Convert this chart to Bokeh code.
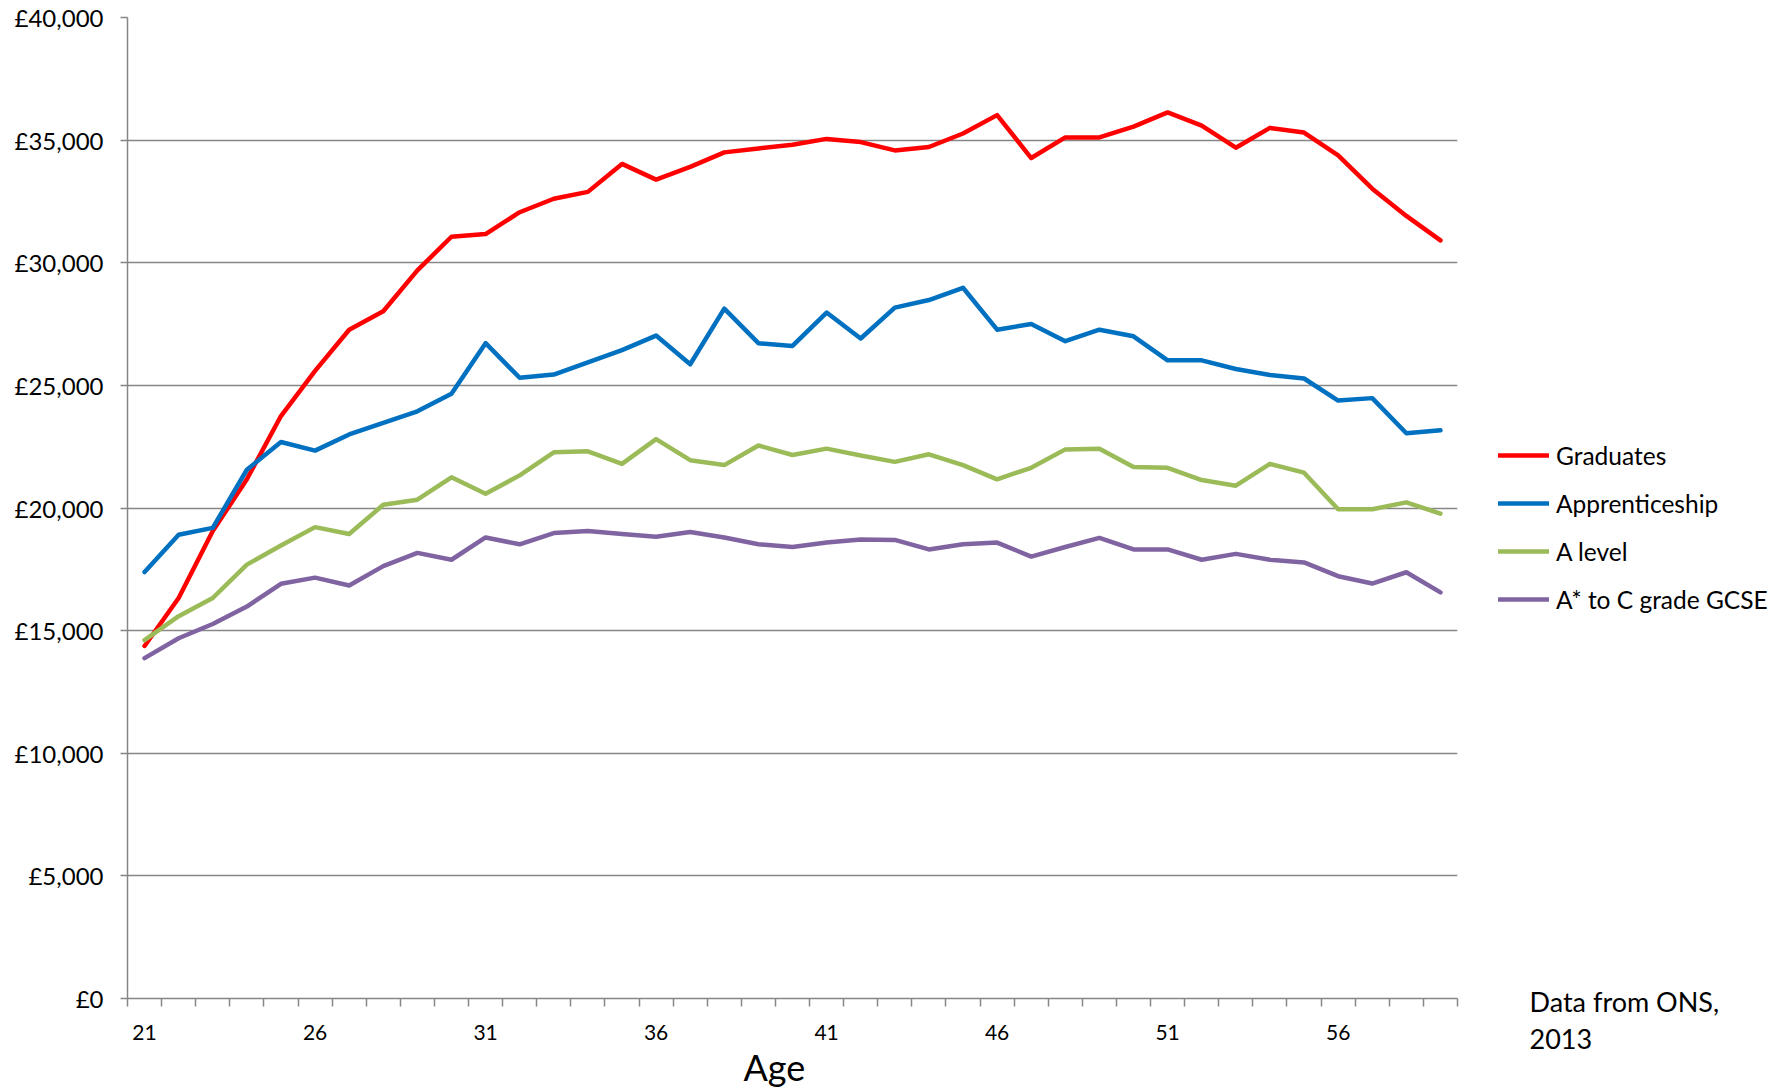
from bokeh.plotting import figure
from bokeh.layouts import row
from bokeh.models import Range1d, FixedTicker, Legend, LegendItem, Title
from bokeh.embed import file_html
from bokeh.resources import INLINE

ages = list(range(21, 60))
graduates = [14375, 16330, 19060, 21170, 23750, 25590, 27270, 28020, 29690, 31060,
             31170, 32060, 32610, 32890, 34030, 33390, 33910, 34500, 34660, 34810,
             35050, 34920, 34580, 34720, 35270, 36020, 34270, 35110, 35110, 35550,
             36130, 35590, 34690, 35500, 35310, 34380, 33020, 31910, 30910]
apprenticeship = [17390, 18910, 19190, 21560, 22690, 22340, 23000, 23470, 23940, 24660,
                  26720, 25310, 25440, 25940, 26440, 27030, 25860, 28130, 26720, 26610,
                  27970, 26910, 28170, 28480, 28980, 27270, 27500, 26800, 27270, 27000,
                  26020, 26020, 25670, 25420, 25280, 24380, 24480, 23050, 23170]
a_level = [14610, 15590, 16330, 17690, 18470, 19220, 18940, 20130, 20340, 21250,
           20580, 21330, 22270, 22310, 21800, 22810, 21950, 21750, 22550, 22160,
           22420, 22140, 21880, 22190, 21750, 21170, 21640, 22390, 22420, 21670,
           21640, 21140, 20910, 21800, 21440, 19950, 19950, 20230, 19770]
gcse = [13880, 14690, 15270, 15980, 16910, 17160, 16840, 17630, 18170, 17890,
        18800, 18520, 18980, 19060, 18940, 18830, 19020, 18800, 18520, 18410,
        18590, 18720, 18700, 18310, 18520, 18590, 18020, 18410, 18780, 18310,
        18310, 17890, 18130, 17890, 17780, 17220, 16920, 17380, 16560]

series_names = ["Graduates", "Apprenticeship", "A level", "A* to C grade GCSE"]
series_values = [graduates, apprenticeship, a_level, gcse]
series_colors = ["#FF0000", "#0070C0", "#9BBB59", "#8064A2"]

y_ticks = [0, 5000, 10000, 15000, 20000, 25000, 30000, 35000, 40000]
y_tick_labels = ["£0", "£5,000", "£10,000", "£15,000", "£20,000",
                 "£25,000", "£30,000", "£35,000", "£40,000"]
x_tick_ages = [21, 26, 31, 36, 41, 46, 51, 56]
x_title = "Age"
note_lines = ["Data from ONS,", "2013"]

FONT = "Lato"
GRAY = "#868686"

p = figure(frame_width=1330, frame_height=981, output_backend="svg", toolbar_location=None,
           x_range=Range1d(ages[0] - 0.5, ages[-1] + 0.5), y_range=Range1d(y_ticks[0], y_ticks[-1]),
           min_border_left=127, min_border_right=5, min_border_top=17, min_border_bottom=0)
p.outline_line_color = None

# x axis
p.xaxis.ticker = FixedTicker(ticks=x_tick_ages, minor_ticks=[a - 0.5 for a in ages] + [ages[-1] + 0.5])
p.xaxis.major_tick_out = 0
p.xaxis.major_tick_in = 0
p.xaxis.minor_tick_out = 8
p.xaxis.minor_tick_in = 0
p.xaxis.minor_tick_line_color = GRAY
p.xaxis.minor_tick_line_width = 1.5
p.xaxis.axis_line_color = GRAY
p.xaxis.axis_line_width = 1.5
p.xaxis.major_label_text_font = FONT
p.xaxis.major_label_text_font_size = "21px"
p.xaxis.major_label_text_color = "black"
p.xaxis.major_label_standoff = 18

p.add_layout(Title(text=x_title, align="left", offset=616, standoff=0,
                   text_font=FONT, text_font_size="36px", text_font_style="normal",
                   text_color="black"), "below")

# y axis
p.yaxis.ticker = FixedTicker(ticks=y_ticks)
p.yaxis.major_label_overrides = {t: l for t, l in zip(y_ticks, y_tick_labels)}
p.yaxis.major_tick_out = 7
p.yaxis.major_tick_in = 0
p.yaxis.major_tick_line_color = GRAY
p.yaxis.major_tick_line_width = 1.5
p.yaxis.minor_tick_out = 0
p.yaxis.minor_tick_in = 0
p.yaxis.axis_line_color = GRAY
p.yaxis.axis_line_width = 1.5
p.yaxis.major_label_text_font = FONT
p.yaxis.major_label_text_font_size = "24px"
p.yaxis.major_label_text_color = "black"
p.yaxis.major_label_standoff = 17

p.xgrid.grid_line_color = None
p.ygrid.ticker = FixedTicker(ticks=y_ticks)
p.ygrid.grid_line_color = GRAY
p.ygrid.grid_line_width = 1.5

for vals, col in zip(series_values, series_colors):
    p.line(ages, vals, line_color=col, line_width=4.5, line_join="round", line_cap="round")

# side panel holding the legend and the source note
q = figure(frame_width=311, frame_height=981, output_backend="svg", toolbar_location=None,
           x_axis_type=None, y_axis_type=None, min_border=0, min_border_bottom=90, title=None,
           x_range=Range1d(0, 1), y_range=Range1d(0, 1))
q.outline_line_color = None
q.xgrid.grid_line_color = None
q.ygrid.grid_line_color = None

items = []
for name, vals, col in zip(series_names, series_values, series_colors):
    # the series drawn again outside this panel's ranges, only as legend keys
    r = q.line(ages, vals, line_color=col, line_width=4.5, line_cap="round")
    items.append(LegendItem(label=name, renderers=[r]))

legend = Legend(items=items, location=(36, 375), glyph_width=51, glyph_height=48,
                label_height=48, spacing=0, padding=0, margin=0, label_standoff=7,
                border_line_color=None, background_fill_alpha=0,
                label_text_font=FONT, label_text_font_size="24.5px", label_text_color="black")
q.add_layout(legend)

for line, so in zip(note_lines, [-28, 46]):
    q.add_layout(Title(text=line, align="left", offset=67, standoff=so, vertical_align="top",
                       text_font=FONT, text_font_size="27px", text_font_style="normal",
                       text_color="black"), "below")

layout = row(p, q, spacing=0)
open("out.html", "w").write(file_html(layout, INLINE))
